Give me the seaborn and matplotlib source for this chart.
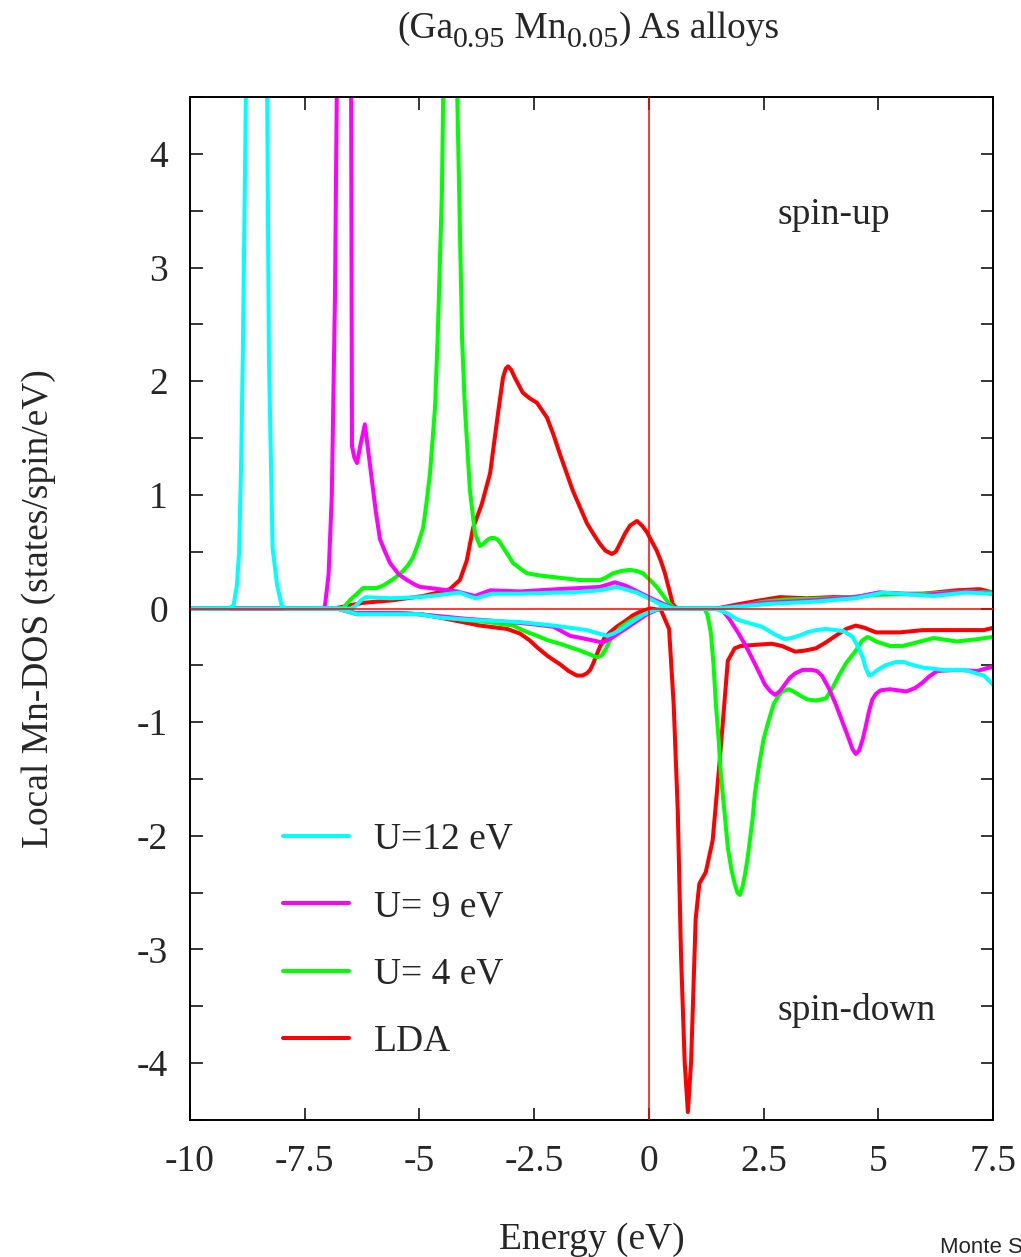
import matplotlib
matplotlib.use("Agg")
import matplotlib.pyplot as plt
import seaborn as sns
import numpy as np
import pandas as pd

# ---------------- data: local Mn DOS, (Ga0.95 Mn0.05)As ----------------
# LDA
lda_up_e = [-10, -6.9, -6.73, -6.5, -6.23, -5.64, -4.92, -4.5, -4.34, -4.12, -3.97,
            -3.83, -3.64, -3.46, -3.29, -3.18, -3.12, -3.07, -3.0, -2.92, -2.75, -2.6,
            -2.44, -2.22, -2.08, -1.94, -1.8, -1.66, -1.5, -1.35, -1.2, -1.07, -0.95,
            -0.81, -0.72, -0.63, -0.52, -0.41, -0.26, -0.15, -0.04, 0.05, 0.17, 0.26,
            0.35, 0.44, 0.52, 0.61, 1.0, 1.48, 1.98, 2.4, 2.85, 3.44, 4.0, 4.53, 5.03,
            5.5, 5.97, 6.71, 7.21, 7.5]
lda_up_d = [0, 0, 0.01, 0.03, 0.05, 0.07, 0.11, 0.15, 0.17, 0.25, 0.42,
            0.71, 0.92, 1.19, 1.71, 2.03, 2.11, 2.13, 2.1, 2.03, 1.9, 1.85,
            1.81, 1.68, 1.53, 1.36, 1.2, 1.04, 0.89, 0.75, 0.65, 0.57, 0.51,
            0.48, 0.5, 0.57, 0.66, 0.73, 0.77, 0.73, 0.67, 0.6, 0.51, 0.42,
            0.31, 0.17, 0.04, 0, 0, 0, 0.04, 0.07, 0.1, 0.09, 0.1, 0.1, 0.14,
            0.13, 0.13, 0.16, 0.17, 0.14]
lda_dn_e = [-10, -6.8, -6.36, -5.64, -4.99, -4.55, -3.68, -3.09, -2.81, -2.6, -2.44,
            -2.2, -1.94, -1.75, -1.57, -1.45, -1.35, -1.28, -1.22, -1.15, -1.07, -0.97,
            -0.85, -0.7, -0.48, -0.35, -0.2, 0.02, 0.26, 0.44, 0.54, 0.63, 0.70, 0.78,
            0.85, 0.92, 1.02, 1.10, 1.24, 1.39, 1.55, 1.72, 1.87, 2.0, 2.31, 2.68, 2.9,
            3.19, 3.4, 3.64, 3.85, 4.07, 4.3, 4.51, 4.7, 4.95, 5.2, 5.47, 5.97, 6.56,
            7.3, 7.5]
lda_dn_d = [0, 0, -0.05, -0.04, -0.05, -0.08, -0.15, -0.18, -0.22, -0.28, -0.34,
            -0.42, -0.49, -0.55, -0.59, -0.59, -0.57, -0.54, -0.49, -0.42, -0.34, -0.26,
            -0.21, -0.16, -0.1, -0.06, -0.03, 0, -0.01, -0.18, -0.84, -1.78, -3.04, -3.99,
            -4.43, -3.99, -2.73, -2.42, -2.32, -2.04, -1.31, -0.46, -0.35, -0.33, -0.32, -0.31, -0.33,
            -0.38, -0.37, -0.35, -0.3, -0.24, -0.18, -0.15, -0.17, -0.21, -0.21, -0.21, -0.19, -0.19,
            -0.19, -0.17]

# U = 4 eV
u4_up_e = [-10, -6.67, -6.5, -6.36, -6.23, -6.1, -5.93, -5.8, -5.64, -5.5, -5.36,
           -5.25, -5.14, -5.03, -4.92, -4.85, -4.77, -4.66, -4.6, -4.51, -4.48, -4.34,
           -4.18, -4.12, -4.07, -4.01, -3.9, -3.79, -3.68, -3.6, -3.53, -3.45, -3.36,
           -3.28, -3.18, -3.07, -2.96, -2.8, -2.66, -2.37, -1.94, -1.5, -1.07, -0.95,
           -0.78, -0.6, -0.41, -0.27, -0.13, 0.0, 0.17, 0.28, 0.39, 0.48, 0.57, 1.5,
           2.0, 2.5, 3.0, 4.0, 5.0, 6.0, 7.0, 7.5]
u4_up_d = [0, 0, 0.08, 0.13, 0.18, 0.18, 0.18, 0.2, 0.24, 0.28, 0.33,
           0.38, 0.45, 0.57, 0.71, 0.92, 1.19, 1.77, 2.42, 3.67, 4.6, 11.6,
           4.6, 3.37, 2.36, 1.77, 1.04, 0.66, 0.55, 0.57, 0.6, 0.62, 0.62,
           0.6, 0.54, 0.47, 0.4, 0.35, 0.31, 0.29, 0.27, 0.25, 0.25, 0.27,
           0.31, 0.33, 0.34, 0.33, 0.31, 0.26, 0.19, 0.13, 0.07, 0.03, 0, 0,
           0.02, 0.06, 0.08, 0.09, 0.12, 0.13, 0.15, 0.14]
u4_dn_e = [-10, -6.8, -6.36, -5.5, -5.0, -4.0, -3.5, -2.96, -2.7, -2.44, -2.2,
           -1.94, -1.5, -1.13, -1.02, -0.93, -0.85, -0.63, -0.45, -0.26, 0.09, 0.24,
           1.21, 1.28, 1.35, 1.41, 1.46, 1.52, 1.57, 1.65, 1.72, 1.8, 1.87, 1.93,
           1.98, 2.04, 2.09, 2.15, 2.2, 2.26, 2.31, 2.4, 2.5, 2.6, 2.72, 2.82, 2.9,
           3.05, 3.15, 3.27, 3.45, 3.64, 3.75, 3.86, 4.0, 4.14, 4.3, 4.51, 4.65,
           4.77, 4.95, 5.25, 5.53, 6.2, 6.71, 7.15, 7.5]
u4_dn_d = [0, 0, -0.04, -0.04, -0.05, -0.1, -0.12, -0.15, -0.2, -0.24, -0.28,
           -0.31, -0.37, -0.43, -0.41, -0.35, -0.28, -0.17, -0.12, -0.08, -0.02, 0,
           0, -0.06, -0.21, -0.5, -0.84, -1.15, -1.47, -1.8, -2.1, -2.3, -2.42, -2.5,
           -2.52, -2.45, -2.35, -2.2, -2.04, -1.85, -1.63, -1.38, -1.15, -1.0, -0.84, -0.77, -0.73,
           -0.71, -0.73, -0.76, -0.8, -0.81, -0.8, -0.79, -0.7, -0.59, -0.48, -0.37, -0.28,
           -0.25, -0.29, -0.33, -0.33, -0.26, -0.29, -0.27, -0.25]

# U = 9 eV
u9_up_e = [-10, -7.12, -7.06, -6.98, -6.91, -6.84, -6.8, -6.67, -6.49, -6.47, -6.42,
           -6.36, -6.28, -6.19, -6.12, -6.04, -5.95, -5.86, -5.75, -5.64, -5.45, -5.27,
           -5.1, -4.99, -4.77, -4.18, -3.79, -3.46, -2.8, -2.0, -1.5, -1.07, -0.74,
           -0.5, -0.2, 0.1, 0.35, 0.57, 1.5, 2.5, 3.5, 4.5, 5.0, 6.0, 7.0, 7.5]
u9_up_d = [0, 0, 0.02, 0.3, 0.99, 2.77, 4.6, 9.0, 4.6, 1.43, 1.33,
           1.28, 1.45, 1.62, 1.4, 1.14, 0.85, 0.61, 0.5, 0.4, 0.3, 0.25,
           0.21, 0.19, 0.18, 0.15, 0.11, 0.16, 0.15, 0.17, 0.18, 0.19, 0.23,
           0.2, 0.14, 0.08, 0.035, 0, 0, 0.05, 0.07, 0.1, 0.14, 0.12, 0.15, 0.13]
u9_dn_e = [-10, -6.8, -6.4, -5.5, -5.0, -4.0, -3.0, -2.5, -2.08, -1.72, -1.35,
           -1.0, -0.78, -0.48, -0.04, 0.24, 1.57, 1.75, 1.94, 2.1, 2.24, 2.4,
           2.53, 2.65, 2.75, 2.85, 2.96, 3.07, 3.19, 3.35, 3.55, 3.66, 3.77, 3.92,
           4.07, 4.22, 4.36, 4.44, 4.51, 4.58, 4.66, 4.73, 4.8, 4.87, 4.95, 5.05,
           5.25, 5.61, 5.8, 5.97, 6.1, 6.28, 6.71, 7.15, 7.5]
u9_dn_d = [0, 0, -0.04, -0.04, -0.05, -0.09, -0.12, -0.14, -0.16, -0.24, -0.27,
           -0.3, -0.25, -0.17, -0.05, 0, 0, -0.09, -0.21, -0.32, -0.43, -0.56,
           -0.67, -0.73, -0.76, -0.73, -0.67, -0.61, -0.57, -0.54, -0.54, -0.55, -0.59, -0.7,
           -0.84, -1.0, -1.15, -1.24, -1.28, -1.25, -1.15, -1.03, -0.9, -0.8, -0.75, -0.72,
           -0.71, -0.73, -0.7, -0.65, -0.6, -0.55, -0.54, -0.55, -0.51]

# U = 12 eV
u12_up_e = [-10, -9.15, -9.05, -8.98, -8.93, -8.89, -8.85, -8.78, -8.54, -8.32, -8.28,
            -8.2, -8.1, -8.0, -7.9, -6.5, -6.4, -6.28, -6.17, -5.64, -4.99, -4.34,
            -4.12, -3.86, -3.77, -3.6, -3.42, -2.8, -2.0, -1.72, -1.07, -0.7, -0.26,
            0.09, 0.24, 0.5, 0.6, 1.5, 2.6, 3.6, 4.5, 5.1, 5.84, 6.2, 6.9, 7.5]
u12_up_d = [0, 0, 0.03, 0.2, 0.5, 1.2, 2.2, 4.6, 14.0, 4.6, 2.2,
            0.53, 0.2, 0.02, 0, 0, 0.02, 0.07, 0.1, 0.09, 0.1, 0.13,
            0.14, 0.1, 0.09, 0.11, 0.13, 0.13, 0.14, 0.14, 0.16, 0.19, 0.14,
            0.07, 0.04, 0.005, 0, 0, 0.04, 0.06, 0.09, 0.14, 0.12, 0.11, 0.14, 0.13]
u12_dn_e = [-10, -6.8, -6.36, -5.0, -4.55, -3.9, -2.8, -2.08, -1.35, -1.1, -0.91,
            -0.77, -0.63, -0.45, -0.26, -0.1, 0.09, 0.24, 1.43, 1.7, 1.94, 2.2,
            2.46, 2.75, 2.96, 3.1, 3.27, 3.45, 3.64, 3.85, 4.07, 4.25, 4.44, 4.55,
            4.66, 4.72, 4.8, 4.87, 4.95, 5.15, 5.39, 5.55, 5.69, 5.97, 6.42, 6.87,
            7.3, 7.5]
u12_dn_d = [0, 0, -0.05, -0.05, -0.08, -0.1, -0.12, -0.15, -0.19, -0.22, -0.24,
            -0.22, -0.19, -0.14, -0.09, -0.05, -0.02, 0, 0, -0.04, -0.1, -0.13,
            -0.16, -0.23, -0.27, -0.26, -0.24, -0.21, -0.19, -0.18, -0.19, -0.2, -0.25, -0.33,
            -0.43, -0.52, -0.59, -0.58, -0.55, -0.5, -0.47, -0.47, -0.49, -0.52, -0.54, -0.54,
            -0.59, -0.67]

series_labels = ["U=12 eV", "U= 9 eV", "U= 4 eV", "LDA"]
series_colors = ["#00ffff", "#ff00ff", "#00ff00", "#ff0000"]

x_ticks = [-10, -7.5, -5, -2.5, 0, 2.5, 5, 7.5]
x_tick_labels = ["-10", "-7.5", "-5", "-2.5", "0", "2.5", "5", "7.5"]
y_ticks = [-4, -3, -2, -1, 0, 1, 2, 3, 4]
y_tick_labels = ["-4", "-3", "-2", "-1", "0", "1", "2", "3", "4"]

# ---------------- figure ----------------
sns.set_style("ticks")
plt.rcParams["font.family"] = ["Liberation Serif", "DejaVu Serif"]
plt.rcParams["axes.unicode_minus"] = False

fig = plt.figure(figsize=(10.21, 12.57), dpi=100)
ax = fig.add_axes([0.1861, 0.1090, 0.7865, 0.8138])

curves = {
    "LDA": (lda_up_e, lda_up_d, lda_dn_e, lda_dn_d),
    "U= 4 eV": (u4_up_e, u4_up_d, u4_dn_e, u4_dn_d),
    "U= 9 eV": (u9_up_e, u9_up_d, u9_dn_e, u9_dn_d),
    "U=12 eV": (u12_up_e, u12_up_d, u12_dn_e, u12_dn_d),
}
color_of = dict(zip(series_labels, series_colors))

handles = {}
for name, (ue, ud, de, dd) in curves.items():
    up = pd.DataFrame({"E": ue, "DOS": ud})
    dn = pd.DataFrame({"E": de, "DOS": dd})
    sns.lineplot(data=up, x="E", y="DOS", ax=ax, color=color_of[name],
                 linewidth=2.9, estimator=None, sort=False, label=name,
                 solid_joinstyle="round")
    handles[name] = ax.get_lines()[-1]
    sns.lineplot(data=dn, x="E", y="DOS", ax=ax, color=color_of[name],
                 linewidth=2.9, estimator=None, sort=False,
                 solid_joinstyle="round")

# Fermi level and zero line
ax.axhline(0, color="#ff0000", linewidth=1.1, zorder=5)
ax.axvline(0, color="#ff0000", linewidth=1.1, zorder=5)

ax.set_xlim(-10, 7.5)
ax.set_ylim(-4.5, 4.5)
ax.set_xticks(x_ticks)
ax.set_xticklabels(x_tick_labels)
ax.set_yticks(y_ticks)
ax.set_yticklabels(y_tick_labels)
ax.set_yticks(np.arange(-4.5, 4.51, 0.5), minor=True)
ax.tick_params(which="both", direction="in", top=True, right=True,
               length=9, width=1.3, labelsize=27)
ax.tick_params(axis="x", pad=18)
ax.tick_params(axis="y", pad=16)
ax.tick_params(axis="y", which="minor", labelleft=False)
for sp in ax.spines.values():
    sp.set_linewidth(1.4)
    sp.set_color("black")

ax.set_xlabel("Energy (eV)", fontsize=27)
ax.set_ylabel("Local Mn-DOS (states/spin/eV)", fontsize=27)
ax.xaxis.set_label_coords(0.5, -0.100)
ax.yaxis.set_label_coords(-0.167, 0.5)

# title with enlarged subscripts, built piece by piece on a common baseline
main_size, sub_size, sub_drop = 27, 21.5, -5.3
t0 = fig.text(397 / 1021, 1 - 38 / 1257, "(Ga", fontsize=main_size,
              ha="left", va="baseline")
pieces = [("0.95", sub_size, sub_drop), (" Mn", main_size, 0),
          ("0.05", sub_size, sub_drop), (") As alloys", main_size, 0)]
prev = t0
for txt, size, dy in pieces:
    prev = ax.annotate(txt, xy=(1, 0), xycoords=(prev, t0), xytext=(0, dy),
                       textcoords="offset points", ha="left", va="bottom",
                       fontsize=size, annotation_clip=False)

ax.text(2.81, 3.38, "spin-up", fontsize=27, ha="left", va="baseline")
ax.text(2.81, -3.62, "spin-down", fontsize=27, ha="left", va="baseline")

leg = ax.legend([handles[n] for n in series_labels], series_labels,
                loc="upper left", bbox_to_anchor=(0.116, 0.291), frameon=False,
                fontsize=27, handlelength=1.76, handletextpad=0.66,
                labelspacing=0.88, borderpad=0, borderaxespad=0)

fig.text(940 / 1021, 1 - 1253 / 1257, "Monte S", family="Liberation Sans",
         fontsize=16, ha="left", va="baseline")

fig.savefig("out.png", dpi=100)
